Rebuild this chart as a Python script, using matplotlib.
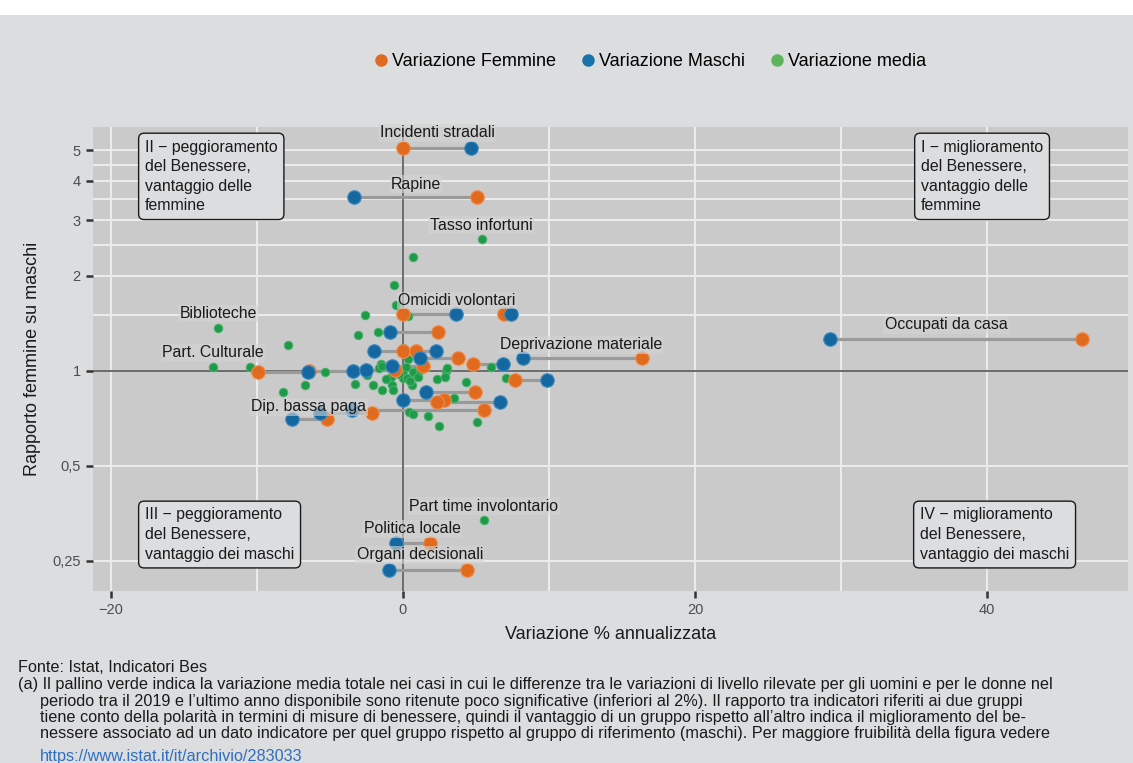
import matplotlib
matplotlib.use("Agg")
import matplotlib.pyplot as plt
from matplotlib.lines import Line2D
from matplotlib.patches import Rectangle
from matplotlib.ticker import FixedLocator, NullFormatter

plt.rcParams["font.family"] = ["Liberation Sans", "DejaVu Sans"]

# pairs: ratio F/M, annualised change for women (F) and men (M)
PAIR_RATIO = [5.09, 3.56, 1.51, 1.51, 1.33, 1.16, 1.16, 1.097, 1.055, 1.095,
              0.936, 0.86, 0.809, 0.799, 0.752, 0.738, 0.703, 0.99, 1.0, 1.01,
              1.04, 0.285, 0.234, 1.26]
PAIR_F = [0.0, 5.07, 0.0, 6.9, 2.42, 0.0, 0.9, 3.79, 4.82, 16.35,
          7.69, 4.93, 2.81, 2.31, 5.58, -2.14, -5.23, -9.91, -6.42, -0.55,
          1.39, 1.85, 4.38, 46.5]
PAIR_M = [4.66, -3.36, 3.6, 7.4, -0.89, -1.97, 2.26, 1.16, 6.87, 8.2,
          9.84, 1.58, 0.02, 6.64, -3.51, -5.68, -7.62, -6.53, -3.4, -2.53,
          -0.77, -0.48, -0.96, 29.25]

# average change where the gap between men and women is small
MEAN_X = [5.43, 0.66, -0.6, -0.48, 0.36, -2.6, -12.65, -3.1, -1.69, -7.9,
          0.0, 0.36, -13.03, -10.5, -5.34, -3.45, -1.5, -1.62, -2.44, -0.82,
          -1.16, -0.77, -0.66, -1.46, -2.08, -3.29, -6.71, -8.2, 0.0, 0.6,
          0.0, 0.82, 0.82, 0.43, 0.7, 1.69, 2.49, 5.05, 3.49, 2.31,
          2.95, 2.88, 4.29, 6.0, 7.05, 0.66, 0.3, 3.04, -1.46, 5.55,
          0.5, 1.0, -0.3, 0.2, 1.2]
MEAN_Y = [2.61, 2.29, 1.87, 1.62, 1.49, 1.5, 1.366, 1.30, 1.33, 1.21,
          1.18, 1.09, 1.03, 1.03, 0.99, 1.01, 1.05, 1.02, 0.97, 0.96,
          0.94, 0.90, 0.87, 0.87, 0.90, 0.91, 0.90, 0.86, 0.95, 0.90,
          1.0, 1.0, 0.97, 0.74, 0.73, 0.72, 0.67, 0.69, 0.82, 0.94,
          1.0, 0.96, 0.92, 1.03, 0.95, 0.99, 0.95, 1.02, 1.04, 0.337,
          0.93, 0.96, 0.98, 1.03, 1.01]

LABELS = ["Incidenti stradali", "Rapine", "Tasso infortuni", "Omicidi volontari",
          "Biblioteche", "Part. Culturale", "Deprivazione materiale",
          "Occupati da casa", "Dip. bassa paga", "Part time involontario",
          "Politica locale", "Organi decisionali"]
LABEL_X = [2.33, 0.89, 5.34, 3.7, -12.67, -13.0, 12.19, 37.19, -6.44, 5.55, 0.62, 1.16]
LABEL_Y = [5.68, 3.91, 2.90, 1.67, 1.52, 1.14, 1.21, 1.40, 0.769, 0.373, 0.316, 0.261]

QUADRANTS = ["II \u2212 peggioramento\ndel Benessere,\nvantaggio delle\nfemmine",
             "I \u2212 miglioramento\ndel Benessere,\nvantaggio delle\nfemmine",
             "III \u2212 peggioramento\ndel Benessere,\nvantaggio dei maschi",
             "IV \u2212 miglioramento\ndel Benessere,\nvantaggio dei maschi"]

Y_TICKS = [0.25, 0.5, 1, 2, 3, 4, 5]
Y_TICKLABELS = ["0,25", "0,5", "1", "2", "3", "4", "5"]
Y_MINOR = [1.5, 2.5, 3.5, 4.5]
X_TICKS = [-20, 0, 20, 40]
X_MINOR = [-10, 10, 30]

FOOTNOTE = [
    "(a) Il pallino verde indica la variazione media totale nei casi in cui le differenze tra le variazioni di livello rilevate per gli uomini e per le donne nel",
    "periodo tra il 2019 e l\u2019ultimo anno disponibile sono ritenute poco significative (inferiori al 2%). Il rapporto tra indicatori riferiti ai due gruppi",
    "tiene conto della polarit\u00e0 in termini di misure di benessere, quindi il vantaggio di un gruppo rispetto all\u2019altro indica il miglioramento del be-",
    "nessere associato ad un dato indicatore per quel gruppo rispetto al gruppo di riferimento (maschi). Per maggiore fruibilit\u00e0 della figura vedere",
]

ORANGE = "#E06A1E"
BLUE = "#15689F"
GREEN = "#1E9A48"
BG = "#DCDDDF"
PANEL = "#C9CAC9"

W, H = 1133, 763
fig = plt.figure(figsize=(W / 100, H / 100), dpi=100, facecolor="white")
fig.patches.append(Rectangle((0, 0), 1, 1 - 15 / H, transform=fig.transFigure,
                             facecolor=BG, edgecolor="none", zorder=-10))

ax = fig.add_axes([93 / W, 1 - 591 / H, (1128 - 93) / W, (591 - 127) / H])
ax.set_facecolor(PANEL)
ax.set_yscale("log")
ax.set_xlim(-21.23, 49.66)
ax.set_ylim(0.2007, 5.93)
for s in ax.spines.values():
    s.set_visible(False)

ax.set_xticks(X_TICKS)
ax.set_xticklabels(["\u221220", "0", "20", "40"])
ax.set_yticks(Y_TICKS)
ax.set_yticklabels(Y_TICKLABELS)
ax.yaxis.set_minor_locator(FixedLocator(Y_MINOR))
ax.yaxis.set_minor_formatter(NullFormatter())
ax.xaxis.set_minor_locator(FixedLocator(X_MINOR))
ax.tick_params(which="major", length=5, width=1.8, color="#333333",
               labelcolor="#4D4D4D", labelsize=10.5, pad=4)
ax.tick_params(which="minor", length=0)

ax.grid(True, which="both", color="#EBEBEB", linewidth=1.5, zorder=0)
ax.set_axisbelow(True)
ax.axvline(0, color="#555555", linewidth=1.2, zorder=1)
ax.axhline(1, color="#555555", linewidth=1.2, zorder=1)

ax.hlines(PAIR_RATIO, PAIR_F, PAIR_M, color="#9A9A9A", linewidth=2.3, zorder=2)
ax.scatter(MEAN_X, MEAN_Y, s=38, color=GREEN, edgecolor="#4DB36E",
           linewidth=0.7, zorder=3)
ax.scatter(PAIR_F, PAIR_RATIO, s=95, color=ORANGE, edgecolor="#F08C4A",
           linewidth=0.8, zorder=4)
ax.scatter(PAIR_M, PAIR_RATIO, s=95, color=BLUE, edgecolor="#3D8CC2",
           linewidth=0.8, zorder=5)

for lab, lx, ly in zip(LABELS, LABEL_X, LABEL_Y):
    ax.text(lx, ly, lab, ha="center", va="center", fontsize=11.4, color="#1A1A1A",
            zorder=6, bbox=dict(boxstyle="square,pad=0.08", facecolor="#D3D4D3",
                                edgecolor="none", alpha=0.6))

quad_pos = [(0.0502, 0.973), (0.800, 0.973), (0.0502, 0.180), (0.799, 0.180)]
for txt, (qx, qy) in zip(QUADRANTS, quad_pos):
    ax.text(qx, qy, txt, transform=ax.transAxes, ha="left", va="top",
            fontsize=11.4, linespacing=1.38, color="#1A1A1A", zorder=7,
            bbox=dict(boxstyle="round,pad=0.4,rounding_size=0.35",
                      facecolor=BG, edgecolor="#1A1A1A", linewidth=1))

ax.set_xlabel("Variazione % annualizzata", fontsize=13, color="#1A1A1A", labelpad=6)
ax.set_ylabel("Rapporto femmine su maschi", fontsize=13, color="#1A1A1A", labelpad=8)

handles = [Line2D([], [], marker="o", linestyle="none", markersize=8,
                  color=c, label=l)
           for c, l in [(ORANGE, "Variazione Femmine"), ("#1A73A8", "Variazione Maschi"),
                        ("#5DB55A", "Variazione media")]]
fig.legend(handles=handles, loc="center", bbox_to_anchor=(649 / W, 1 - 62 / H),
           ncol=3, frameon=False, fontsize=13, handletextpad=0.1,
           columnspacing=1.3, handlelength=1.0)

# footnotes
fig.text(18 / W, 1 - 668 / H, "Fonte: Istat, Indicatori Bes", ha="left", va="center",
         fontsize=11.7, color="#1A1A1A")
for i, line in enumerate(FOOTNOTE):
    x0 = 18 if i == 0 else 40
    fig.text(x0 / W, 1 - (685 + 16.3 * i) / H, line, ha="left", va="center",
             fontsize=11.7, color="#1A1A1A")
fig.text(40 / W, 1 - 757 / H, "https://www.istat.it/it/archivio/283033", ha="left",
         va="center", fontsize=11.7, color="#2F6FC0")

fig.savefig("out.png", dpi=100, facecolor="white")
